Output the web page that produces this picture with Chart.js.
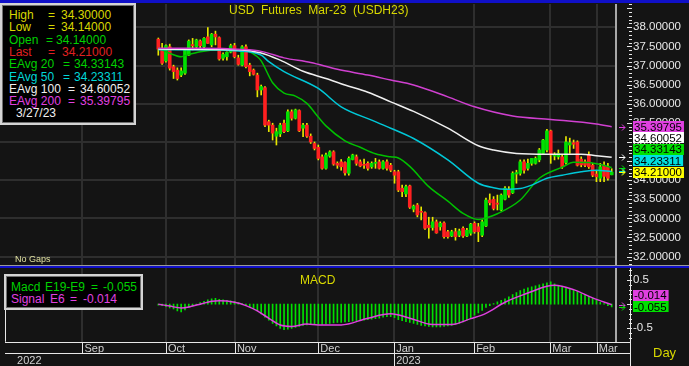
<!DOCTYPE html>
<html lang="en">
<head>
<meta charset="UTF-8">
<title>USD Futures Mar-23 (USDH23)</title>
<script src="https://cdn.jsdelivr.net/npm/chart.js"></script>
<style>
  body { margin: 0; background: #141414; font-family: Arial, "Liberation Sans", sans-serif; }
  #wrap { position: relative; width: 689px; height: 366px; overflow: hidden; background: #141414; }
  canvas { position: absolute; left: 0; }
  #priceChart { top: 4px; }
  #macdChart { top: 268px; }
  .rule { position: absolute; left: 0; width: 689px; }
  .txt { position: absolute; white-space: pre; font-size: 12px; line-height: 14px; }
  .box { position: absolute; background: #000; border: 2px solid #d4d4d4; box-shadow: inset 0 0 0 1px #707070; }
</style>
</head>
<body>
<div id="wrap">
  <canvas id="priceChart" width="689" height="261"></canvas>
  <canvas id="macdChart" width="689" height="98"></canvas>

  <div class="rule" style="top:0;height:3px;background:#1010c8"></div>
  <div class="rule" style="top:265px;height:1px;background:#9a9a9a"></div>
  <div class="rule" style="top:266px;height:2px;background:#1010c8"></div>

  <div class="txt" style="left:229px;top:3px;color:#d8d800">USD  Futures  Mar-23  (USDH23)</div>
  <div class="txt" style="left:15px;top:252px;font-size:9px;color:#e0e0a0">No Gaps</div>

  <div class="box" style="left:0;top:3px;width:132px;height:118px"></div>
  <div id="legend"></div>

  <div class="txt" style="left:300px;top:273px;color:#d8d800">MACD</div>
  <div class="box" style="left:4px;top:274px;width:135px;height:32px"></div>
  <div id="macdLegend"></div>
  <div class="txt" style="left:653px;top:346px;font-size:13px;color:#d8d800">Day</div>
</div>

<script>
// daily candles, index 0 = first visible bar, index 119 = 3/27/23
const opens = [37.69,37.45,37.12,37.49,36.97,36.88,36.75,36.80,37.27,37.55,37.49,37.64,37.49,37.75,37.54,37.82,37.73,37.19,37.23,37.35,
  37.52,37.20,37.01,37.49,37.01,36.88,36.75,36.36,36.42,35.53,35.44,35.15,35.21,35.49,35.29,35.79,35.62,35.82,35.36,35.44,
  35.15,34.96,34.86,34.61,34.31,34.63,34.74,34.44,34.48,34.46,34.18,34.54,34.61,34.48,34.41,34.44,34.35,34.44,34.48,34.31,
  34.48,34.39,34.22,34.22,33.79,33.64,33.85,33.24,33.35,33.18,33.15,32.82,32.76,32.91,32.78,32.88,32.65,32.54,32.65,32.56,
  32.74,32.54,32.61,32.87,32.78,32.56,32.80,33.48,33.50,33.40,33.22,33.50,33.74,33.67,34.16,34.18,34.48,34.31,34.44,34.44,
  34.53,34.70,34.79,35.29,34.63,34.61,34.61,34.46,34.92,34.98,35.00,34.55,34.48,34.66,34.39,34.16,34.05,34.39,34.35,34.14];
const highs = [37.72,37.58,37.54,37.56,37.01,36.94,36.94,37.45,37.67,37.71,37.69,37.67,37.73,37.99,37.84,37.90,37.75,37.33,37.36,37.56,
  37.58,37.27,37.52,37.54,37.06,36.91,36.80,36.49,36.45,35.57,35.49,35.36,35.49,35.57,35.84,35.84,35.86,35.84,35.49,35.49,
  35.21,35.00,34.92,34.66,34.71,34.77,34.77,34.48,34.54,34.48,34.61,34.68,34.66,34.53,34.55,34.48,34.48,34.57,34.53,34.51,
  34.53,34.44,34.26,34.26,33.87,33.87,33.87,33.35,33.39,33.30,33.17,33.03,33.03,32.96,32.91,32.91,32.69,32.69,32.74,32.72,
  32.78,32.74,32.87,32.91,32.87,32.96,33.53,33.64,33.57,33.61,33.64,33.83,33.83,34.22,34.26,34.53,34.53,34.55,34.57,34.61,
  34.83,35.07,35.33,35.31,34.72,34.79,34.66,35.14,35.10,35.05,35.03,34.61,34.53,34.74,34.44,34.26,34.44,34.48,34.44,34.30];
const lows = [37.27,37.03,37.09,36.88,36.66,36.62,36.71,36.77,37.26,37.41,37.47,37.45,37.47,37.58,37.49,37.54,37.14,37.14,37.14,37.33,
  37.20,37.01,36.99,36.94,36.73,36.75,36.18,36.23,35.40,35.27,35.05,34.92,35.14,35.24,35.27,35.57,35.60,35.27,35.14,35.12,
  34.96,34.79,34.53,34.29,34.29,34.60,34.39,34.31,34.26,34.13,34.13,34.53,34.39,34.35,34.31,34.26,34.31,34.31,34.29,34.29,
  34.26,34.22,33.92,33.70,33.57,33.57,33.26,33.17,33.04,32.96,32.71,32.48,32.69,32.61,32.69,32.48,32.48,32.52,32.43,32.52,
  32.50,32.52,32.56,32.61,32.39,32.52,32.78,33.35,33.22,33.22,33.20,33.48,33.55,33.65,33.92,34.13,34.18,34.26,34.39,34.42,
  34.48,34.68,34.74,34.44,34.53,34.55,34.31,34.42,34.70,34.83,34.37,34.35,34.35,34.31,34.09,33.96,33.96,33.96,34.00,34.14];
const closes = [37.43,37.06,37.52,36.93,36.84,36.66,36.86,37.41,37.64,37.52,37.67,37.52,37.71,37.58,37.82,37.75,37.17,37.29,37.35,37.52,
  37.23,37.03,37.49,36.97,36.84,36.77,36.36,36.45,35.44,35.44,35.23,35.27,35.44,35.27,35.79,35.62,35.84,35.29,35.44,35.15,
  35.00,34.83,34.57,34.31,34.66,34.74,34.42,34.39,34.35,34.19,34.57,34.66,34.44,34.37,34.39,34.31,34.44,34.46,34.31,34.48,
  34.31,34.26,34.13,33.74,33.70,33.83,33.29,33.32,33.09,33.16,32.74,32.76,32.91,32.62,32.87,32.52,32.52,32.65,32.52,32.67,
  32.54,32.69,32.85,32.65,32.65,32.91,33.48,33.41,33.26,33.37,33.61,33.79,33.61,34.18,34.20,34.48,34.26,34.44,34.57,34.57,
  34.79,35.05,35.29,34.66,34.66,34.70,34.35,35.00,34.98,34.94,34.39,34.40,34.39,34.35,34.13,34.09,34.35,34.10,34.05,34.21];

// exponential averages at these bar indexes
const ema20Idx = [0,3,6,7,11,16,22,26,27,30,33,36,39,42,44,49,53,57,61,63,66,71,76,80,84,86,89,95,100,106,109,113,116,119];
const ema20 = [37.46,37.32,37.23,37.26,37.36,37.41,37.41,37.23,37.12,36.55,36.28,36.20,36.01,35.65,35.42,35.03,34.86,34.69,34.61,34.58,
  34.36,33.83,33.45,33.13,32.97,33.01,33.12,33.48,34.05,34.34,34.47,34.46,34.41,34.33];
const ema50Idx = [0,11,21,27,29,33,42,48,56,61,67,76,84,88,91,95,98,102,106,111,115,119];
const ema50 = [37.41,37.41,37.38,37.27,37.10,36.84,36.40,35.92,35.57,35.36,35.09,34.53,33.92,33.80,33.76,33.78,33.87,34.05,34.13,34.22,34.26,34.23];
const ema100Idx = [0,11,21,27,32,38,44,49,55,61,67,76,84,88,94,102,111,115,119];
const ema100 = [37.43,37.42,37.41,37.33,37.14,36.85,36.66,36.49,36.30,36.05,35.80,35.36,34.90,34.79,34.70,34.68,34.68,34.64,34.60];
const ema200Idx = [0,11,22,27,33,40,47,55,61,67,76,83,93,103,115,119];
const ema200 = [37.45,37.45,37.42,37.37,37.20,37.08,36.90,36.75,36.62,36.49,36.18,35.92,35.68,35.59,35.47,35.40];

// MACD histogram (one per bar) and signal line
const macdHist = [-0.02,-0.03,-0.05,-0.08,-0.10,-0.14,-0.16,-0.12,-0.07,-0.04,-0.01,0.03,0.06,0.09,0.11,0.12,0.10,0.09,0.08,0.07,
  0.06,0.03,0.01,-0.02,-0.05,-0.09,-0.14,-0.20,-0.27,-0.33,-0.40,-0.45,-0.50,-0.53,-0.52,-0.50,-0.48,-0.46,-0.44,-0.43,
  -0.42,-0.42,-0.42,-0.42,-0.41,-0.40,-0.39,-0.38,-0.38,-0.37,-0.36,-0.35,-0.34,-0.34,-0.33,-0.32,-0.31,-0.30,-0.29,-0.27,
  -0.26,-0.26,-0.28,-0.32,-0.34,-0.36,-0.38,-0.40,-0.42,-0.44,-0.45,-0.46,-0.47,-0.47,-0.47,-0.46,-0.45,-0.44,-0.42,-0.40,
  -0.37,-0.33,-0.28,-0.23,-0.18,-0.13,-0.07,-0.03,0.01,0.05,0.08,0.11,0.15,0.20,0.24,0.28,0.31,0.34,0.36,0.38,
  0.40,0.42,0.44,0.46,0.42,0.38,0.36,0.34,0.31,0.29,0.26,0.22,0.19,0.16,0.12,0.08,0.04,0.01,-0.03,-0.055];
const signalIdx = [0,3,6,9,11,14,16,20,23,26,28,32,35,39,42,48,55,61,66,72,77,82,86,91,97,102,104,109,114,119];
const signal = [0.00,-0.04,-0.08,-0.04,0.00,0.06,0.07,0.04,-0.03,-0.14,-0.24,-0.43,-0.46,-0.41,-0.43,-0.43,-0.29,-0.20,-0.29,-0.42,
  -0.42,-0.30,-0.19,0.04,0.23,0.37,0.39,0.30,0.13,-0.014];

// axis labels
const priceTicks = [32, 32.5, 33, 33.5, 34, 34.5, 35, 35.5, 36, 36.5, 37, 37.5, 38];
const macdTicks = [-0.5, 0.5];
const monthLabels = ['Sep', 'Oct', 'Nov', 'Dec', 'Jan', 'Feb', 'Mar', 'Mar'];
const monthPos = [-19.9, 2.0, 20.1, 42.0, 61.9, 82.9, 102.9, 115.1];
const yearLabels = ['2022', '2023'];
const yearPos = [-37.6, 61.9];

// value tags on the right edge
const priceTagLabels = ['35.39795', '34.60052', '34.33143', '34.23311', '34.21000'];
const priceTagValues = [35.39795, 34.60052, 34.33143, 34.23311, 34.21];
const priceTagColors = ['#e040e0', '#ffffff', '#00e000', '#00e0e0', '#ffff00'];
const macdTagLabels = ['-0.014', '-0.055'];
const macdTagValues = [-0.014, -0.055];
const macdTagColors = ['#e040e0', '#00e000'];

// legend rows: text pieces and their left edges
const legendRows = [
  [['High', 9], ['=', 48], ['34.30000', 61], '#d8d800'],
  [['Low', 9], ['=', 48], ['34.14000', 61], '#d8d800'],
  [['Open', 9], ['=', 46], ['34.14000', 56], '#00d000'],
  [['Last', 9], ['=', 48], ['34.21000', 62], '#e02020'],
  [['EAvg 20', 9], ['=', 63], ['34.33143', 74], '#00d000'],
  [['EAvg 50', 9], ['=', 63], ['34.23311', 74], '#00d8d8'],
  [['EAvg 100', 9], ['=', 68], ['34.60052', 80], '#f0f0f0'],
  [['EAvg 200', 9], ['=', 68], ['35.39795', 80], '#e040e0']
];
const macdLegendRows = [
  [['Macd', 11], ['E19-E9', 45], ['=', 91], ['-0.055', 103], '#00d000'],
  [['Signal', 11], ['E6', 50], ['=', 70], ['-0.014', 83], '#e040e0']
];

const X_MIN = -41.55, X_MAX = 120.13;
const GRID = '#2e2e2e';
const UP = '#00e000', DOWN = '#ff2020', WICK = '#e8e800';

function writeRows(el, rows, top0, step) {
  rows.forEach((r, k) => {
    const color = r[r.length - 1];
    r.slice(0, -1).forEach(([t, left]) => {
      el.insertAdjacentHTML('beforeend',
        `<div class="txt" style="left:${left}px;top:${top0 + k * step}px;color:${color}">${t}</div>`);
    });
  });
}
const legend = document.getElementById('legend');
writeRows(legend, legendRows, 8, 12.3);
legend.insertAdjacentHTML('beforeend', `<div class="txt" style="left:16px;top:106px;color:#f0f0f0">3/27/23</div>`);
writeRows(document.getElementById('macdLegend'), macdLegendRows, 280, 12.3);

function arrow(ctx, x, y, color) {
  ctx.strokeStyle = color;
  ctx.lineWidth = 1;
  ctx.beginPath();
  ctx.moveTo(x, y + 0.5); ctx.lineTo(x + 6, y + 0.5);
  ctx.moveTo(x + 3, y - 2.5); ctx.lineTo(x + 6, y + 0.5); ctx.lineTo(x + 3, y + 3.5);
  ctx.stroke();
}

function drawTags(ctx, scale, labels, values, colors) {
  // stack from the lowest value upward so boxes do not overlap
  const pos = values.map(v => scale.getPixelForValue(v));
  const out = pos.slice();
  const n = pos.length;
  for (let i = n - 2; i >= 0; i--) out[i] = Math.min(pos[i], out[i + 1] - 11.4);
  ctx.font = '11.5px Arial';
  ctx.textBaseline = 'middle';
  ctx.textAlign = 'left';
  for (let i = 0; i < n; i++) {
    arrow(ctx, 619, Math.round(pos[i]), colors[i]);
    ctx.fillStyle = colors[i];
    const w = ctx.measureText(labels[i]).width + 3;
    ctx.fillRect(633, Math.round(out[i] - 5.5), w, 11);
    ctx.fillStyle = '#000';
    ctx.fillText(labels[i], 634, Math.round(out[i]) + 0.5);
  }
}

function minorTicks(ctx, scale, from, to, step) {
  ctx.fillStyle = '#e8e8e8';
  for (let v = from; v <= to + 1e-9; v += step) {
    const py = Math.round(scale.getPixelForValue(v));
    const major = Math.abs(v / 0.5 - Math.round(v / 0.5)) < 1e-6;
    ctx.fillRect(major ? 627 : 629, py, major ? 5 : 3, 1);
  }
}

// keep the plot area flush with the canvas edges
const noPad = a => { a.paddingTop = 0; a.paddingBottom = 0; a.paddingLeft = 0; a.paddingRight = 0; };

const priceDecor = {
  id: 'priceDecor',
  afterDraw(chart) {
    const ctx = chart.ctx, y = chart.scales.y;
    ctx.save();
    minorTicks(ctx, y, 31.8, 38.6, 0.1);
    drawTags(ctx, y, priceTagLabels, priceTagValues, priceTagColors);
    ctx.restore();
  }
};

const macdDecor = {
  id: 'macdDecor',
  afterDraw(chart) {
    const ctx = chart.ctx, y = chart.scales.y, x = chart.scales.x, area = chart.chartArea;
    ctx.save();
    minorTicks(ctx, y, -0.7, 0.7, 0.1);
    ctx.fillStyle = '#e8e8e8';
    ctx.fillRect(630, 0, 1, chart.height);
    ctx.fillRect(5, 42, 1, area.bottom - 42);
    const row1 = Math.round(area.bottom), row2 = row1 + 11;
    ctx.fillRect(5, row1, 625, 1);
    ctx.fillRect(5, row2, 625, 1);
    monthPos.forEach(v => ctx.fillRect(Math.round(x.getPixelForValue(v)), row1, 1, row2 - row1));
    ctx.fillRect(Math.round(x.getPixelForValue(yearPos[1])), row2, 1, chart.height - row2);
    drawTags(ctx, y, macdTagLabels, macdTagValues, macdTagColors);
    ctx.restore();
  }
};

const idx = opens.map((_, i) => i);
const pts = (xs, ys) => xs.map((v, i) => ({x: v, y: ys[i]}));
const lineDs = (xs, ys, color) => ({ type: 'line', data: pts(xs, ys), borderColor: color, borderWidth: 1.5,
  pointRadius: 0, cubicInterpolationMode: 'monotone', order: 0 });

new Chart(document.getElementById('priceChart'), {
  type: 'bar',
  data: {
    datasets: [
      lineDs(ema200Idx, ema200, '#d040d0'),
      lineDs(ema100Idx, ema100, '#f0f0f0'),
      lineDs(ema50Idx, ema50, '#00c8d8'),
      lineDs(ema20Idx, ema20, '#00c000'),
      { data: idx.map(i => ({x: i, y: [opens[i], closes[i]]})),
        backgroundColor: idx.map(i => closes[i] >= opens[i] ? UP : DOWN),
        barThickness: 3, minBarLength: 1, grouped: false, order: 1 },
      { data: idx.map(i => ({x: i, y: [lows[i], highs[i]]})),
        backgroundColor: WICK, barThickness: 1, grouped: false, order: 2 }
    ]
  },
  options: {
    responsive: false,
    animation: false,
    devicePixelRatio: 1,
    layout: { padding: 0, autoPadding: false },
    plugins: { legend: { display: false }, tooltip: { enabled: false } },
    scales: {
      x: {
        type: 'linear', min: X_MIN, max: X_MAX, offset: false,
        afterBuildTicks: a => { a.ticks = monthPos.map(v => ({value: v})); },
        ticks: { display: false },
        grid: { color: GRID, lineWidth: 2, drawTicks: false, offset: false },
        border: { display: false },
        afterFit: a => { a.height = 0; noPad(a); }
      },
      y: {
        position: 'right', min: 31.78, max: 38.61,
        afterBuildTicks: a => { a.ticks = priceTicks.map(v => ({value: v})); },
        ticks: { color: '#e8e8e8', font: { family: 'Arial', size: 11.5 }, padding: 17, callback: v => Number(v).toFixed(5) },
        grid: { color: c => Number.isInteger(c.tick.value) ? GRID : 'rgba(0,0,0,0)', lineWidth: 2, drawTicks: false },
        border: { display: true, color: '#a8a8a8', width: 2 },
        afterFit: a => { a.width = 73; noPad(a); }
      }
    }
  },
  plugins: [priceDecor]
});

new Chart(document.getElementById('macdChart'), {
  type: 'bar',
  data: {
    datasets: [
      lineDs(signalIdx, signal, '#e040e0'),
      { data: idx.map(i => ({x: i, y: macdHist[i]})), backgroundColor: '#00e000', barThickness: 1, grouped: false, order: 1 }
    ]
  },
  options: {
    responsive: false,
    animation: false,
    devicePixelRatio: 1,
    layout: { padding: 0, autoPadding: false },
    plugins: { legend: { display: false }, tooltip: { enabled: false } },
    scales: {
      x: {
        type: 'linear', min: X_MIN, max: X_MAX, offset: false,
        afterBuildTicks: a => { a.ticks = monthPos.map(v => ({value: v})); },
        ticks: { display: true, align: 'start', autoSkip: false, maxRotation: 0, padding: 1, labelOffset: 2,
                 color: '#d0d0d0', font: { family: 'Arial', size: 11 }, callback: (v, i) => monthLabels[i] },
        grid: { color: GRID, lineWidth: 2, drawTicks: false, offset: false },
        border: { display: false },
        afterFit: a => { a.height = 11; noPad(a); }
      },
      x2: {
        type: 'linear', position: 'bottom', min: X_MIN, max: X_MAX, offset: false,
        afterBuildTicks: a => { a.ticks = yearPos.map(v => ({value: v})); },
        ticks: { display: true, align: 'start', autoSkip: false, maxRotation: 0, padding: 2, labelOffset: 2,
                 color: '#d0d0d0', font: { family: 'Arial', size: 11 }, callback: (v, i) => yearLabels[i] },
        grid: { display: false, drawTicks: false },
        border: { display: false },
        afterFit: a => { a.height = 13.3; noPad(a); }
      },
      y: {
        position: 'right', min: -0.777, max: 0.748,
        afterBuildTicks: a => { a.ticks = macdTicks.map(v => ({value: v})); },
        ticks: { color: '#e8e8e8', font: { family: 'Arial', size: 11.5 }, padding: 17, callback: v => String(v) },
        grid: { display: false, drawTicks: false },
        border: { display: true, color: '#a8a8a8', width: 2 },
        afterFit: a => { a.width = 73; noPad(a); }
      }
    }
  },
  plugins: [macdDecor]
});
</script>
</body>
</html>
